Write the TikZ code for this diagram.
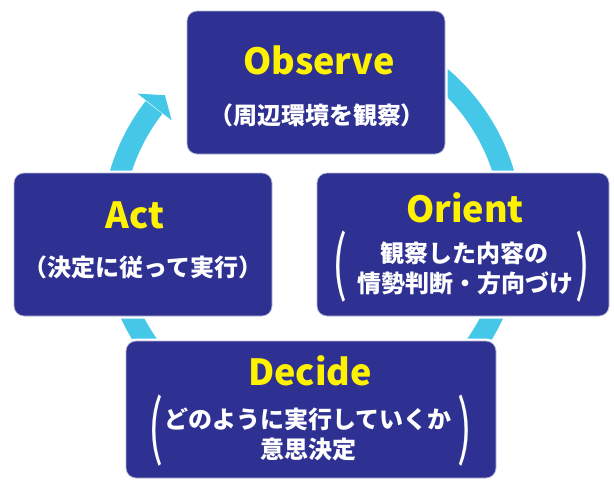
\documentclass[tikz,border=0pt]{standalone}
\usepackage{fontspec}
\setmainfont{Noto Sans CJK JP}
\usetikzlibrary{calc}
\definecolor{boxblue}{HTML}{2E3192}
\definecolor{boxedge}{HTML}{B8B8D8}
\definecolor{titleyellow}{HTML}{FFF200}
\definecolor{cyanarc}{HTML}{45C8E8}
\tikzset{
  box/.style={rectangle, rounded corners=10pt, fill=boxblue, draw=boxedge, line width=0.7pt,
    inner sep=0pt, preaction={draw=white, line width=5pt}},
  titletext/.style={text=titleyellow, inner sep=0pt, anchor=base, font=\fontsize{36}{40}\selectfont\bfseries},
  jptext/.style={text=white, inner sep=0pt, font=\fontsize{24}{28}\selectfont\bfseries},
  bigparen/.style={text=white, inner sep=0pt, font=\fontsize{44}{44}\selectfont},
  cycleband/.style={draw=cyanarc, line width=21pt},
}
\begin{document}
\begin{tikzpicture}[x=1pt,y=1pt]
\useasboundingbox (0,0) rectangle (614,-480);
\coordinate (c) at (312,-230);
% cycle arrow
\draw[cycleband] ($(c)+(120:200)$) arc[start angle=120, end angle=-217.8, radius=200pt];
\fill[cyanarc] ($(c)+(142:221.5)$) -- ($(c)+(137.5:199.5)$) -- ($(c)+(142:178)$) -- cycle;
% boxes
\node[box, minimum width=258pt, minimum height=143pt] (obs) at (316,-82.5) {};
\node[box, minimum width=292pt, minimum height=143pt] (ori) at (463,-244.5) {};
\node[box, minimum width=258pt, minimum height=143pt] (act) at (143,-244.5) {};
\node[box, minimum width=370pt, minimum height=137pt] (dec) at (311,-409.5) {};
% Observe
\node[titletext] (obsT) at (319,-74) {Observe};
\node[jptext] (obsJ) at (317,-115) {（周辺環境を観察）};
% Orient
\node[titletext] (oriT) at (465,-222) {Orient};
\node[jptext] (oriJ1) at (464,-253) {観察した内容の};
\node[jptext] (oriJ2) at (465,-283.5) {情勢判断・方向づけ};
\node[bigparen] (oriL) at (340,-266.5) {\scalebox{1}[1.6]{(}};
\node[bigparen] (oriR) at (582.5,-266.5) {\scalebox{1}[1.6]{)}};
% Act
\node[titletext] (actT) at (135,-228) {Act};
\node[jptext] (actJ) at (143,-267) {（決定に従って実行）};
% Decide
\node[titletext] (decT) at (310,-385) {Decide};
\node[jptext] (decJ1) at (308,-419) {どのように実行していくか};
\node[jptext] (decJ2) at (308,-449) {意思決定};
\node[bigparen] (decL) at (155.5,-431) {\scalebox{1}[1.6]{(}};
\node[bigparen] (decR) at (465,-431) {\scalebox{1}[1.6]{)}};
\end{tikzpicture}
\end{document}
